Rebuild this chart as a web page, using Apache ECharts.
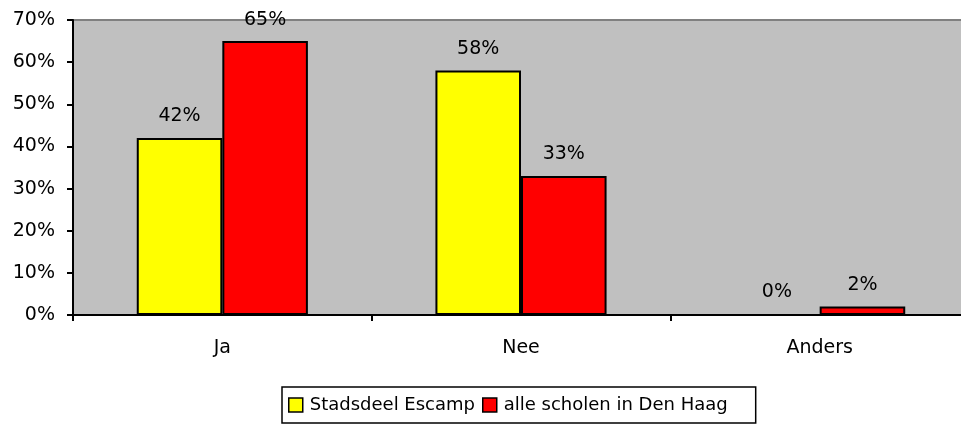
<!DOCTYPE html>
<html>
<head>
<meta charset="utf-8">
<script src="https://cdn.jsdelivr.net/npm/echarts@6/dist/echarts.min.js"></script>
<style>
  html, body { margin: 0; padding: 0; background: #fff; }
  #chart { width: 961px; height: 424px; }
</style>
</head>
<body>
<div id="chart"></div>
<script>
// data
var categories = ['Ja', 'Nee', 'Anders'];
var escamp = [42, 58, 0];
var denHaag = [65, 33, 2];
var seriesNames = ['Stadsdeel Escamp', 'alle scholen in Den Haag'];

var font = 'DejaVu Sans, Verdana, sans-serif';

var myChart = echarts.init(document.getElementById('chart'));

var labelStyle = {
    show: true,
    position: 'top',
    distance: 12,
    formatter: '{c}%',
    color: '#000',
    fontFamily: font,
    fontSize: 19
};

var option = {
    animation: false,
    grid: {
        left: 73,
        right: -8,
        top: 20,
        bottom: 109,
        outerBoundsMode: 'none',
        show: true,
        backgroundColor: '#C0C0C0',
        borderWidth: 0
    },
    legend: {
        bottom: 1,
        left: 282,
        data: seriesNames,
        icon: 'rect',
        borderColor: '#000',
        borderWidth: 1.5,
        padding: [9, 28, 9, 6],
        itemGap: 7,
        itemWidth: 14,
        itemHeight: 14,
        itemStyle: { borderColor: '#000', borderWidth: 1.5 },
        textStyle: { fontFamily: font, fontSize: 18, color: '#000', padding: [0, 0, 0, 2] }
    },
    xAxis: {
        type: 'category',
        data: categories,
        axisLine: { lineStyle: { color: '#000', width: 2 } },
        axisTick: { show: true, length: 6, lineStyle: { color: '#000', width: 2 } },
        axisLabel: { color: '#000', fontFamily: font, fontSize: 19, margin: 24 }
    },
    yAxis: {
        type: 'value',
        min: 0,
        max: 70,
        interval: 10,
        splitLine: { show: false },
        axisLine: { show: true, lineStyle: { color: '#000', width: 2 } },
        axisTick: { show: true, length: 6, lineStyle: { color: '#000', width: 2 } },
        axisLabel: { formatter: '{value}%', color: '#000', fontFamily: font, fontSize: 19, margin: 18 }
    },
    series: [
        {
            name: seriesNames[0],
            type: 'bar',
            data: escamp,
            barGap: '0%',
            barCategoryGap: '42.7%',
            itemStyle: { color: '#FFFF00', borderColor: '#000', borderWidth: 2 },
            label: labelStyle
        },
        {
            name: seriesNames[1],
            type: 'bar',
            data: denHaag,
            itemStyle: { color: '#FF0000', borderColor: '#000', borderWidth: 2 },
            label: labelStyle
        }
    ],
    graphic: [{
        type: 'line',
        shape: { x1: 73, y1: 20, x2: 961, y2: 20 },
        style: { stroke: '#808080', lineWidth: 2 }
    }]
};

myChart.setOption(option);
</script>
</body>
</html>
